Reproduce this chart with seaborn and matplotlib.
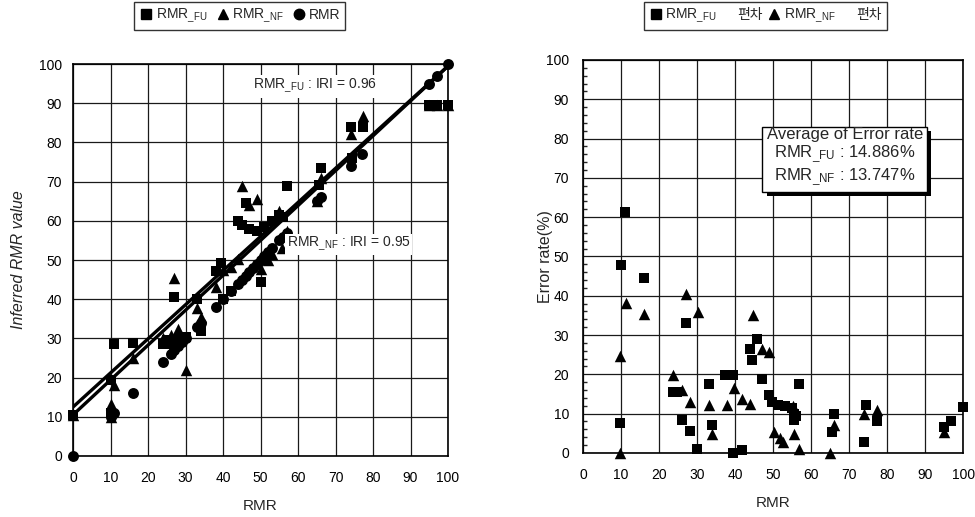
import numpy as np
import pandas as pd
import matplotlib
matplotlib.use("Agg")
import matplotlib.pyplot as plt
import matplotlib.patheffects as pe
from matplotlib.lines import Line2D
from matplotlib.ticker import MultipleLocator
import seaborn as sns

# ---------------- data ----------------
# Measured RMR (plotted against itself as circles)
rmr_vals = [0, 10, 11, 16, 24, 26, 27, 28, 29, 30, 33, 34, 38, 40, 42, 44, 45, 46,
            47, 48, 49, 50, 51, 52, 53, 55, 56, 57, 65, 66, 74, 77, 95, 97, 100]

# Inferred RMR by FU model
fu_x = [0, 10, 10, 11, 16, 24, 25, 26, 27, 28, 30, 33, 34, 38, 39.5, 40, 42, 44, 45,
        46, 47, 49, 50, 51, 53, 55, 56, 57, 65.5, 66, 74, 74.3, 77.2, 95, 97, 100]
fu_y = [10.5, 19.5, 10.9, 28.5, 28.8, 28.5, 29.5, 28.5, 40.5, 29.7, 30.3, 40, 32, 47.3,
        49.3, 40, 42, 60, 59, 64.5, 58, 57.5, 44.5, 58.5, 60, 61.5, 61, 69, 69.2, 73.5,
        84, 76, 84, 89.5, 89.5, 89.5]

# Inferred RMR by NF model
nf_x = [0, 10, 10, 11, 16, 24, 26, 27, 28, 30, 33, 34, 38, 40, 42, 44, 45, 47, 49,
        50, 52, 53, 55, 55.6, 57, 65, 66, 74, 77.3, 95, 97, 100]
nf_y = [10.5, 13.3, 10, 18, 25, 30, 31, 45.5, 32.3, 22, 37.7, 35.5, 43, 47.5, 48.3,
        50.2, 69, 64, 65.7, 47.6, 50, 51.5, 62.5, 53, 57.5, 65, 71, 82.2, 86.7, 89.5,
        89.5, 89.5]

# Regression lines (intercept, slope)
fit_fu = [12.5, 0.87]
fit_nf = [10.5, 0.89]
iri_fu = 0.96
iri_nf = 0.95

# Error rate (%) of each model
efu_x = [9.8, 9.9, 11, 16, 23.7, 24.6, 25.9, 27.1, 28.1, 29.9, 33.1, 33.8, 37.4, 37.8,
         39.5, 39.5, 41.7, 43.9, 44.5, 45.7, 47, 48.8, 49.8, 51.4, 53.2, 55, 55.4, 55.6,
         56, 56.9, 65.5, 65.9, 74.3, 74, 77.2, 94.9, 96.8, 100]
efu_y = [7.6, 47.8, 61.3, 44.4, 15.5, 15.5, 8.3, 33, 5.6, 1.1, 17.5, 7, 19.8, 19.7,
         19.9, 0, 0.7, 26.5, 23.6, 29, 18.7, 14.7, 13, 12.1, 11.9, 11.5, 10, 8.3,
         9.5, 17.5, 5.3, 10, 12.1, 2.8, 8.1, 6.6, 8.1, 11.7]

enf_x = [9.8, 9.8, 11.2, 16, 23.7, 25.9, 27.1, 28.1, 30.1, 33.1, 33.8, 37.8, 39.7, 41.7,
         43.9, 44.8, 47, 48.8, 50.1, 51.8, 52.7, 55.2, 55.6, 56.9, 64.9, 65.9, 74, 77.3,
         94.9]
enf_y = [24.6, 0, 38.1, 35.3, 19.9, 15.9, 40.5, 13, 35.8, 12.1, 4.7, 12.1, 16.4, 13.6,
         12.5, 35, 26.5, 25.7, 5.3, 3.9, 2.8, 11.9, 4.9, 1.1, 0, 7, 10, 10.8, 5.3]

avg_err_fu = "14.886%"
avg_err_nf = "13.747%"

# ---------------- style ----------------
sns.set_theme(style="white")
plt.rcParams["font.family"] = ["Liberation Sans", "Noto Sans CJK KR", "DejaVu Sans"]
plt.rcParams["mathtext.fontset"] = "custom"
plt.rcParams["mathtext.rm"] = "Liberation Sans"
plt.rcParams["mathtext.it"] = "Liberation Sans:italic"
plt.rcParams["mathtext.default"] = "regular"

FU = r"RMR$_{\_FU}$"
NF = r"RMR$_{\_NF}$"

fig = plt.figure(figsize=(9.75, 5.17), dpi=100)
ax1 = fig.add_axes([0.0749, 0.118, 0.3846, 0.758])
ax2 = fig.add_axes([0.598, 0.124, 0.390, 0.760])

SQ = dict(marker="s", s=50, color="black", edgecolor="black", linewidth=0, clip_on=False, zorder=4)
TR = dict(marker="^", s=68, color="black", edgecolor="black", linewidth=0, clip_on=False, zorder=4)
CI = dict(marker="o", s=62, color="black", edgecolor="black", linewidth=0, clip_on=False, zorder=5)


def frame(ax, ypad):
    ax.set_xlim(0, 100)
    ax.set_ylim(0, 100)
    ax.xaxis.set_major_locator(MultipleLocator(10))
    ax.yaxis.set_major_locator(MultipleLocator(10))
    ax.grid(True, color="#1a1a1a", linewidth=0.9)
    ax.set_axisbelow(True)
    for s in ax.spines.values():
        s.set_color("black")
        s.set_linewidth(1.2)
    ax.tick_params(axis="both", which="major", direction="in", length=2,
                   labelsize=10, colors="black")
    ax.tick_params(axis="x", pad=11)
    ax.tick_params(axis="y", pad=ypad)


# ---------------- left: inferred vs measured ----------------
frame(ax1, 8)
sns.scatterplot(x=fu_x, y=fu_y, ax=ax1, **SQ)
sns.scatterplot(x=nf_x, y=nf_y, ax=ax1, **TR)
sns.scatterplot(x=rmr_vals, y=rmr_vals, ax=ax1, **CI)
ax1.axline((0, fit_fu[0]), slope=fit_fu[1], color="black", lw=2.4, zorder=6)
ax1.axline((0, fit_nf[0]), slope=fit_nf[1], color="black", lw=2.4, zorder=6)

ax1.text(48, 94.3, f"{FU} : IRI = {iri_fu}", fontsize=10, va="center", ha="left",
         bbox=dict(boxstyle="square,pad=0.15", fc="white", ec="none"), zorder=7)
ax1.text(57, 54.0, f"{NF} : IRI = {iri_nf}", fontsize=10, va="center", ha="left",
         bbox=dict(boxstyle="square,pad=0.1", fc="white", ec="none"), zorder=7)

ax1.set_xlabel("RMR", fontsize=11, labelpad=10)
ax1.set_ylabel("Inferred RMR value", fontsize=11.5, style="italic")
ax1.yaxis.set_label_coords(-0.125, 0.5)

# ---------------- right: error rates ----------------
frame(ax2, 10)
ax2.yaxis.set_minor_locator(MultipleLocator(2))
ax2.tick_params(axis="y", which="minor", direction="in", length=3, left=True)
sns.scatterplot(x=efu_x, y=efu_y, ax=ax2, **SQ)
sns.scatterplot(x=enf_x, y=enf_y, ax=ax2, **TR)

box = ax2.text(68.8, 75.2,
               f"Average of Error rate\n{FU} : {avg_err_fu}\n{NF} : {avg_err_nf}",
               fontsize=12, ha="center", va="center", multialignment="center",
               linespacing=1.1,
               bbox=dict(boxstyle="square,pad=0.25", fc="white", ec="black", lw=1.0),
               zorder=8)
box.get_bbox_patch().set_path_effects(
    [pe.SimplePatchShadow(offset=(3, -3), shadow_rgbFace="black", alpha=1.0), pe.Normal()])

ax2.set_xlabel("RMR", fontsize=11, labelpad=10)
ax2.set_ylabel("Error rate(%)", fontsize=11.5)
ax2.yaxis.set_label_coords(-0.078, 0.5)

# ---------------- legends ----------------
def h(marker, ms):
    return Line2D([], [], marker=marker, color="black", linestyle="none", markersize=ms)


blank = Line2D([], [], linestyle="none")

l1 = fig.legend([h("s", 6.5), h("^", 7.5), h("o", 7.5)], [FU, NF, "RMR"],
                loc="center", bbox_to_anchor=(0.246, 0.969), ncol=3, frameon=True,
                fancybox=False, edgecolor="black", fontsize=10, handletextpad=0.2,
                columnspacing=0.6, borderpad=0.35, handlelength=1.0, borderaxespad=0)

l2 = fig.legend([h("s", 6.5), blank, h("^", 7.5), blank],
                [FU, "편차", NF, "편차"],
                loc="center", bbox_to_anchor=(0.785, 0.969), ncol=4, frameon=True,
                fancybox=False, edgecolor="black", fontsize=10, handletextpad=0.2,
                columnspacing=0.3, borderpad=0.35, handlelength=1.0, borderaxespad=0)
for t in l2.get_texts():
    if "편" in t.get_text():
        t.set_fontfamily(["Noto Sans CJK KR", "DejaVu Sans"])
for lg in (l1, l2):
    lg.get_frame().set_linewidth(1.0)

fig.savefig("out.png", dpi=100, facecolor="white")
